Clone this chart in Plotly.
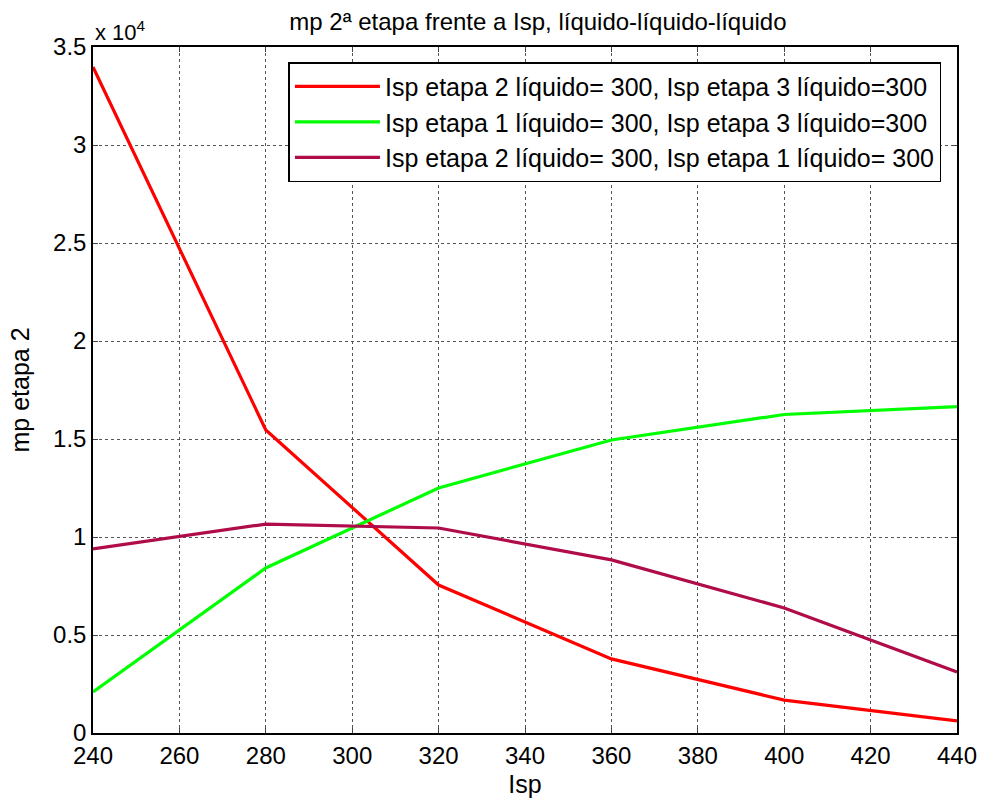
import plotly.graph_objects as go

isp = [240, 280, 320, 360, 400, 440]
red_vals = [33980, 15460, 7550, 3780, 1680, 620]
green_vals = [2090, 8420, 12500, 14950, 16250, 16650]
purple_vals = [9390, 10660, 10460, 8830, 6380, 3110]

names = [
    "Isp etapa 2 líquido= 300, Isp etapa 3 líquido=300",
    "Isp etapa 1 líquido= 300, Isp etapa 3 líquido=300",
    "Isp etapa 2 líquido= 300, Isp etapa 1 líquido= 300",
]
colors = ["#FF0000", "#00FF00", "#B00C4A"]

xticks = [240, 260, 280, 300, 320, 340, 360, 380, 400, 420, 440]
yticks = [0, 5000, 10000, 15000, 20000, 25000, 30000, 35000]
yticktext = ["0", "0.5", "1", "1.5", "2", "2.5", "3", "3.5"]

fig = go.Figure()
for vals, name, col in zip([red_vals, green_vals, purple_vals], names, colors):
    fig.add_trace(go.Scatter(x=isp, y=vals, mode="lines", name=name,
                             line=dict(color=col, width=3.2)))

font = "Liberation Sans, Arial, sans-serif"
fig.update_layout(
    width=989, height=807,
    margin=dict(l=93, r=27, t=47, b=74),
    paper_bgcolor="white", plot_bgcolor="white",
    font=dict(family=font, size=24, color="black"),
    title=dict(text="mp 2ª etapa frente a Isp, líquido-líquido-líquido",
               xref="paper", x=0.515, xanchor="center", y=0.973, yanchor="middle",
               font=dict(size=24)),
    showlegend=True,
    legend=dict(x=0.982, xanchor="right", y=0.978, yanchor="top",
                bgcolor="white", bordercolor="black", borderwidth=1.5,
                font=dict(size=25), itemwidth=85, tracegroupgap=0),
    xaxis=dict(range=[240, 440], tickvals=xticks, ticks="inside", ticklen=5,
               showline=True, linecolor="black", linewidth=1.5, mirror="ticks",
               showgrid=True, gridcolor="#555555", griddash="dot", gridwidth=1,
               zeroline=False, title=dict(text="Isp", standoff=8, font=dict(size=25)),
               tickfont=dict(size=24)),
    yaxis=dict(range=[0, 35000], tickvals=yticks, ticktext=yticktext,
               ticks="inside", ticklen=5,
               showline=True, linecolor="black", linewidth=1.5, mirror="ticks",
               showgrid=True, gridcolor="#555555", griddash="dot", gridwidth=1,
               zeroline=False, title=dict(text="mp etapa 2", standoff=16, font=dict(size=25)),
               tickfont=dict(size=24)),
)
fig.add_annotation(text="x 10<sup>4</sup>", xref="paper", yref="paper",
                   x=0.0, y=1.0, xanchor="left", yanchor="bottom",
                   showarrow=False, font=dict(size=22), yshift=0)

fig.write_html("out.html")
